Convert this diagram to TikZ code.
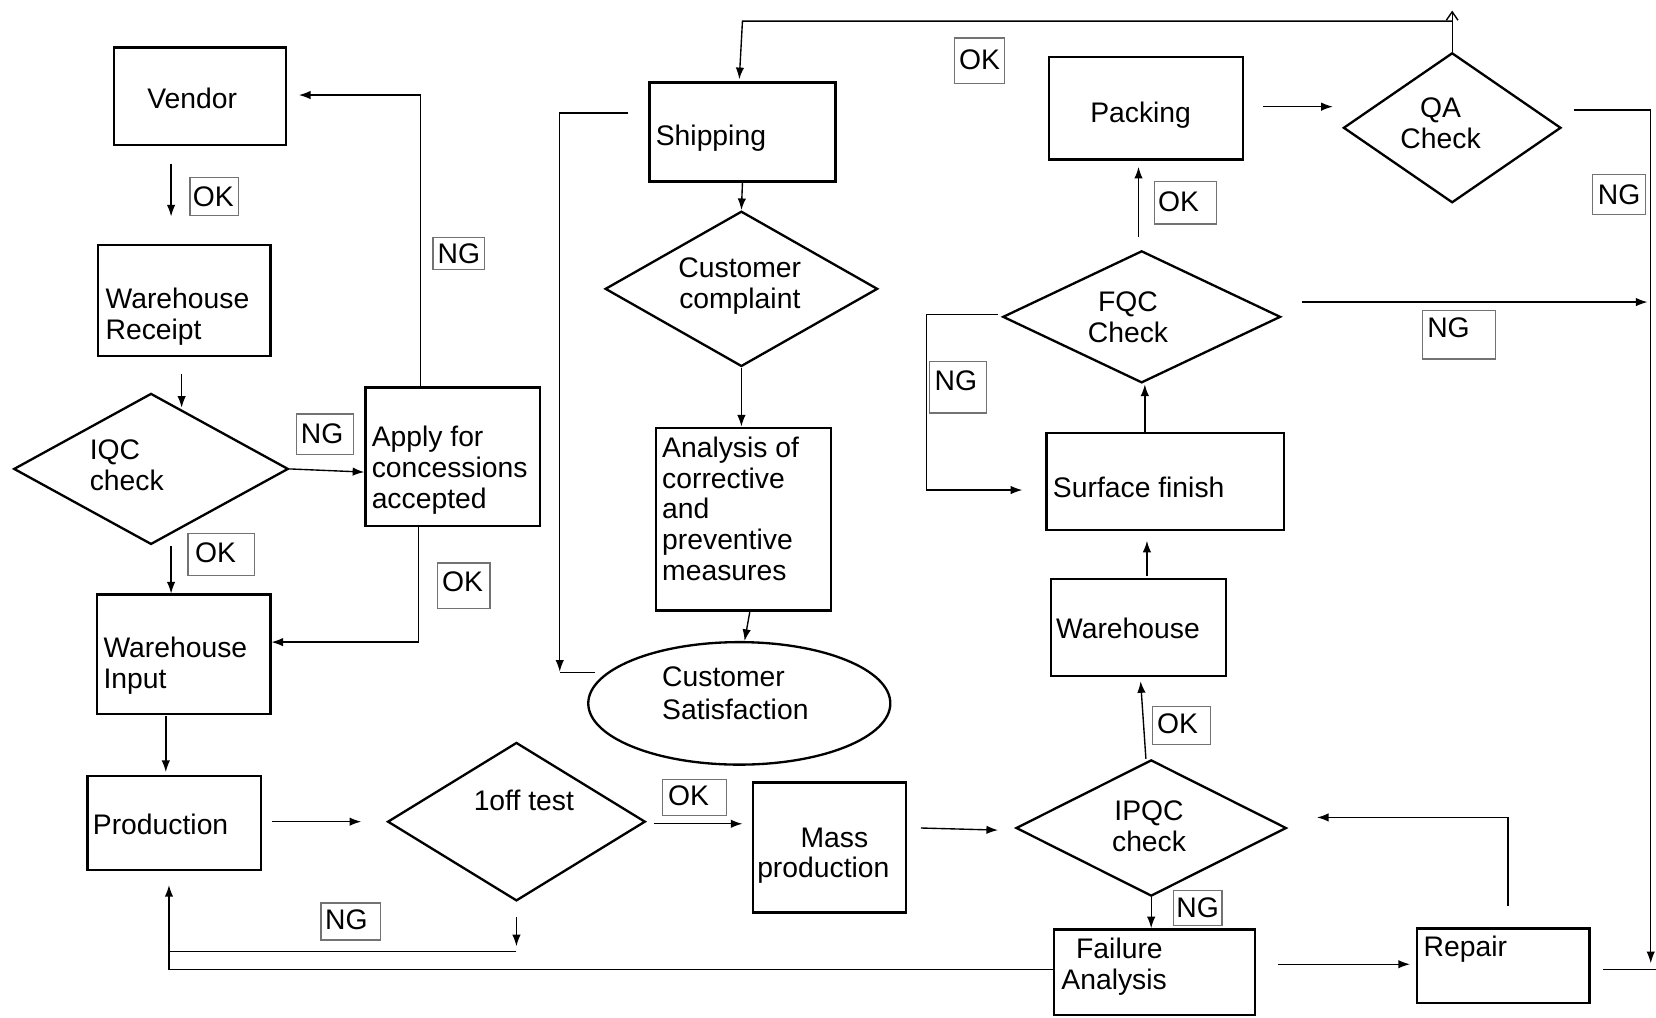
\documentclass[tikz,border=0pt]{standalone}
\usepackage{fontspec}
\setmainfont{Liberation Sans}
\usetikzlibrary{arrows.meta,shapes.geometric}
\newcommand{\ltxt}[3]{\makebox[0pt][l]{\hspace*{#1pt}\raisebox{#2pt}[0pt][0pt]{\begin{tabular}[t]{@{}l@{}}#3\end{tabular}}}}
\newcommand{\ctxt}[3]{\makebox[0pt][l]{\hspace*{#1pt}\makebox[0pt][c]{\raisebox{#2pt}[0pt][0pt]{\begin{tabular}[t]{@{}c@{}}#3\end{tabular}}}}}
\begin{document}
\begin{tikzpicture}[x=1pt,y=-1pt,
  font=\fontsize{26.8}{29.2}\selectfont,
  box/.style={draw, line width=2.2pt, rectangle, inner sep=0pt},
  dia/.style={draw, line width=2.2pt, diamond, inner sep=0pt},
  ell/.style={draw, line width=2.2pt, ellipse, inner sep=0pt},
  lbl/.style={draw=black!55, line width=1.2pt, rectangle, inner sep=0pt},
  conn/.style={line width=1.3pt},
  arr/.style={conn, -{Latex[length=11pt,width=8pt]}}]
\fill[white] (0,0) rectangle (1568,963);
\useasboundingbox (0,0) rectangle (1568,963);

% ---- boxes
\node[box,minimum width=163pt,minimum height=92pt] (vendor) at (189.5,91) {\ctxt{-7.5}{-12}{Vendor}};
\node[box,minimum width=163pt,minimum height=105pt] (wr) at (174.5,284.5) {\ltxt{-74.5}{-7.5}{Warehouse\\Receipt}};
\node[box,minimum width=165pt,minimum height=131pt] (apply) at (428.5,432.5) {\ltxt{-76.5}{9.5}{Apply for\\concessions\\accepted}};
\node[box,minimum width=164pt,minimum height=113pt] (wi) at (174,619.5) {\ltxt{-76}{-3.5}{Warehouse\\Input}};
\node[box,minimum width=164pt,minimum height=89pt] (prod) at (165,779.5) {\ltxt{-77}{-10.5}{Production}};
\node[box,minimum width=176pt,minimum height=94pt] (ship) at (703,125) {\ltxt{-82}{-13}{Shipping}};
\node[box,minimum width=166pt,minimum height=173pt] (anal) at (704,491.5) {\ltxt{-77}{58.5}{Analysis of\\corrective\\and\\preventive\\measures}};
\node[box,minimum width=145pt,minimum height=123pt] (mass) at (785.5,802.5) {\ltxt{-68.5}{0.5}{\hspace*{41pt}Mass\\production}};
\node[box,minimum width=166pt,minimum height=92pt] (wh) at (1078,594) {\ltxt{-78}{-11}{Warehouse}};
\node[box,minimum width=225pt,minimum height=92pt] (surf) at (1103.5,456) {\ltxt{-106.5}{-15}{Surface finish}};
\node[box,minimum width=184pt,minimum height=97pt] (pack) at (1085,102.5) {\ctxt{-5}{-13.5}{Packing}};
\node[box,minimum width=190pt,minimum height=81pt] (fail) at (1093,920.5) {\ltxt{-88}{12.5}{\hspace*{14pt}Failure\\Analysis}};
\node[box,minimum width=163pt,minimum height=71pt] (rep) at (1423.5,914.5) {\ltxt{-75.5}{8.5}{Repair}};

% ---- decisions
\node[dia,minimum width=260pt,minimum height=143pt] (iqc) at (143,444) {\ltxt{-58}{9}{IQC\\check}};
\node[dia,minimum width=244pt,minimum height=150pt] (one) at (489,778) {\ctxt{7}{11}{1off test}};
\node[dia,minimum width=258pt,minimum height=147pt] (cc) at (702,273.5) {\ctxt{-1.5}{10.5}{Customer\\complaint}};
\node[dia,minimum width=256pt,minimum height=129pt] (ipqc) at (1090,784) {\ctxt{-2}{7}{IPQC\\check}};
\node[dia,minimum width=263pt,minimum height=125pt] (fqc) at (1081,300) {\ctxt{-13}{5}{FQC\\Check}};
\node[dia,minimum width=206pt,minimum height=142pt] (qa) at (1375,121) {\ctxt{-11}{10}{QA\\Check}};
\node[ell,minimum width=286pt,minimum height=116pt] (cs) at (700,666) {\ltxt{-73}{16}{Customer\\[1.8pt]Satisfaction}};

% ---- OK / NG labels
\node[lbl,minimum width=46pt,minimum height=36pt] (okA) at (203,186) {\ctxt{-1}{-9.5}{OK}};
\node[lbl,minimum width=49pt,minimum height=30pt] (ngA) at (434.5,240) {\ctxt{0}{-9.5}{NG}};
\node[lbl,minimum width=54pt,minimum height=38pt] (ngB) at (308,411) {\ctxt{-3}{-8.5}{NG}};
\node[lbl,minimum width=63pt,minimum height=40pt] (okB) at (209.5,525) {\ctxt{-5.5}{-8}{OK}};
\node[lbl,minimum width=50pt,minimum height=43pt] (okC) at (439,554.5) {\ctxt{-1}{-5.5}{OK}};
\node[lbl,minimum width=56pt,minimum height=35pt] (ngC) at (332,872.5) {\ctxt{-4}{-8}{NG}};
\node[lbl,minimum width=61pt,minimum height=34pt] (okD) at (657.5,755) {\ctxt{-5.5}{-7.5}{OK}};
\node[lbl,minimum width=55pt,minimum height=36pt] (okE) at (1118.5,687) {\ctxt{-3.5}{-7.5}{OK}};
\node[lbl,minimum width=46pt,minimum height=33pt] (ngD) at (1134,859.5) {\ctxt{0}{-9.5}{NG}};
\node[lbl,minimum width=54pt,minimum height=49pt] (ngE) at (907,366.5) {\ctxt{-2}{-3}{NG}};
\node[lbl,minimum width=59pt,minimum height=40pt] (okF) at (1122.5,192) {\ctxt{-6.5}{-8.5}{OK}};
\node[lbl,minimum width=47pt,minimum height=43pt] (okG) at (927.5,57.5) {\ctxt{0}{-8.5}{OK}};
\node[lbl,minimum width=50pt,minimum height=38pt] (ngF) at (1533,184) {\ctxt{0}{-9.5}{NG}};
\node[lbl,minimum width=69pt,minimum height=46pt] (ngG) at (1381.5,317) {\ctxt{-10}{-2.5}{NG}};

% ---- free connector ends
\coordinate (p1) at (162,155);  \coordinate (p2) at (162,205);
\coordinate (p3) at (172,354);  \coordinate (p4) at (172,386);
\coordinate (vendorIn) at (283,90);
\coordinate (wiIn) at (257,608);
\coordinate (p7) at (162,517);  \coordinate (p8) at (162,562);
\coordinate (p9) at (157,678);  \coordinate (p10) at (157,731);
\coordinate (p11) at (258,778); \coordinate (p12) at (342,778);
\coordinate (p13) at (619,780); \coordinate (p14) at (703,780);
\coordinate (p15) at (489,868); \coordinate (p16) at (489,896);
\coordinate (p17) at (489,901); \coordinate (p18) at (160,901);
\coordinate (prodIn) at (160,838);
\coordinate (p19) at (872,784); \coordinate (p20) at (945,786);
\coordinate (p21) at (1210,913); \coordinate (p22) at (1335,913);
\coordinate (p23) at (1428,858); \coordinate (p24) at (1247,774);
\coordinate (p25) at (1080,645);
\coordinate (p26) at (1086,545); \coordinate (p27) at (1086,512);
\coordinate (p28) at (1084,364);
\coordinate (p29) at (1078,224); \coordinate (p30) at (1078,158);
\coordinate (p31) at (1196,101); \coordinate (p32) at (1262,101);
\coordinate (qaTip) at (1375,10);
\coordinate (tTR) at (1375,20);  \coordinate (tTL) at (703,20);
\coordinate (shipIn) at (700,75);
\coordinate (p33) at (1490,104); \coordinate (p34) at (1563,912);
\coordinate (p35) at (1233,286); \coordinate (p36) at (1560,286);
\coordinate (p37) at (1518,918); \coordinate (p38) at (1568,918);
\coordinate (p39) at (945,298);  \coordinate (p40) at (877,298);
\coordinate (p41) at (877,464);  \coordinate (p42) at (968,464);
\coordinate (p43) at (595,107);  \coordinate (p44) at (530,107);
\coordinate (p45) at (530,636);  \coordinate (p46) at (530,637);
\coordinate (p47) at (563,637);

% ---- connectors
\draw[arr] (p1) -- (p2);
\draw[arr] (p3) -- (p4);
\draw[arr] (iqc.east) -- ([yshift=-14.5pt]apply.west);
\draw[arr] ([xshift=-30.5pt]apply.north) |- (vendorIn);
\draw[arr] ([xshift=-32.5pt]apply.south) |- (wiIn);
\draw[arr] (p7) -- (p8);
\draw[arr] (p9) -- (p10);
\draw[arr] (p11) -- (p12);
\draw[arr] (p13) -- (p14);
\draw[arr] (p15) -- (p16);
\draw[conn] (p17) -- (p18);
\draw[arr] ([yshift=2.5pt]fail.west) -| (prodIn);
\draw[arr] (p19) -- (p20);
\draw[arr] (ipqc.south) -- (ipqc.south |- fail.north);
\draw[arr] (p21) -- (p22);
\draw[arr] (p23) |- (p24);
\draw[arr] ([xshift=-5pt]ipqc.north) -- (p25);
\draw[arr] (p26) -- (p27);
\draw[arr] ([xshift=-19.5pt]surf.north) -- (p28);
\draw[arr] (p29) -- (p30);
\draw[arr] (p31) -- (p32);
\draw[conn,-{Straight Barb[length=8pt,width=11pt]}] (qa.north) -- (qaTip);
\draw[arr] (tTR) -- (tTL) -- (shipIn);
\draw[arr] (p33) -| (p34);
\draw[arr] (p35) -- (p36);
\draw[conn] (p37) -- (p38);
\draw[arr] (p39) -- (p40) -- (p41) -- (p42);
\draw[arr] (ship.south) -- (cc.north);
\draw[arr] (cc.south) -- (cc.south |- anal.north);
\draw[arr] ([xshift=6pt]anal.south) -- ([xshift=5pt]cs.north);
\draw[arr] (p43) -- (p44) -- (p45);
\draw[conn] (p46) -- (p47);
\end{tikzpicture}
\end{document}
